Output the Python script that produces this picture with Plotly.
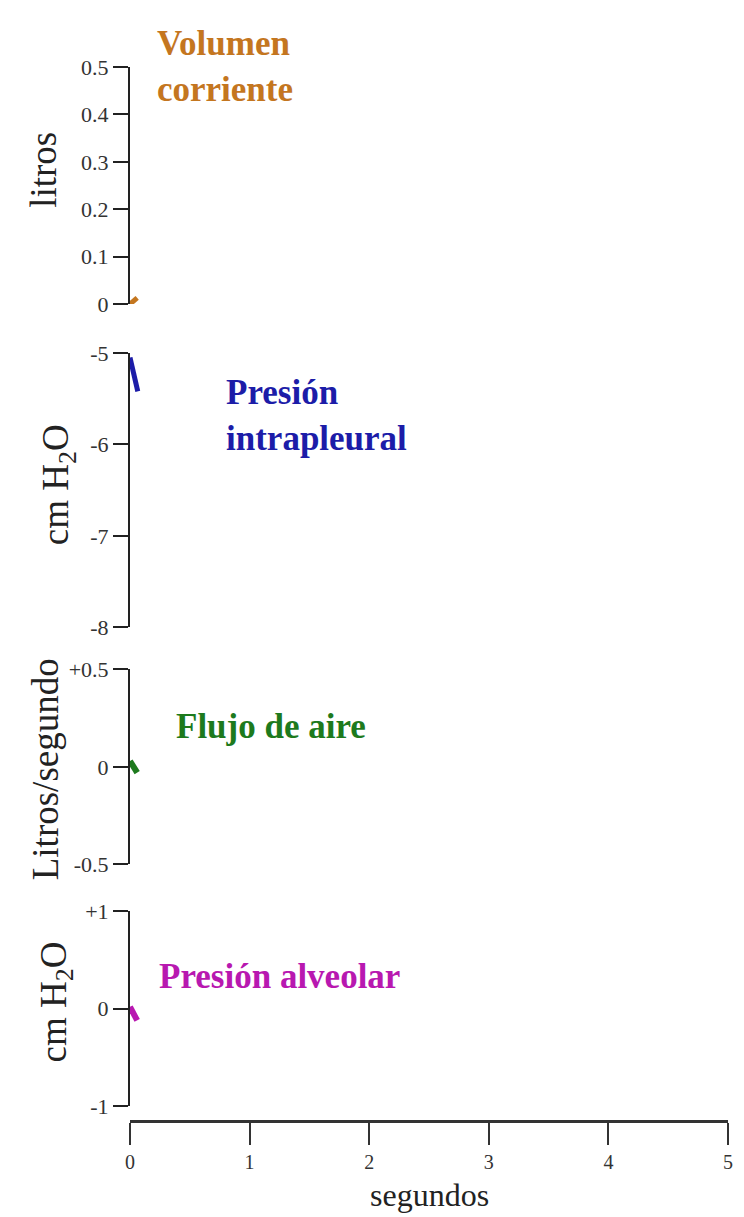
import plotly.graph_objects as go

# ---- data ----
tiempo_vol = [0.0, 0.03, 0.06]
volumen = [0.0, 0.006, 0.013]

tiempo_pip = [0.0, 0.03, 0.065]
presion_intrapleural = [-5.05, -5.2, -5.42]

tiempo_flujo = [0.0, 0.03, 0.06]
flujo = [0.03, 0.0, -0.03]

tiempo_alv = [0.0, 0.03, 0.06]
presion_alveolar = [0.02, -0.05, -0.12]

x_ticks = [0, 1, 2, 3, 4, 5]
y1_ticks = [0, 0.1, 0.2, 0.3, 0.4, 0.5]
y1_labels = ["0", "0.1", "0.2", "0.3", "0.4", "0.5"]
y2_ticks = [-8, -7, -6, -5]
y2_labels = ["-8", "-7", "-6", "-5"]
y3_ticks = [-0.5, 0, 0.5]
y3_labels = ["-0.5", "0", "+0.5"]
y4_ticks = [-1, 0, 1]
y4_labels = ["-1", "0", "+1"]

# ---- colours ----
C_ORANGE = "#c4761f"
C_BLUE = "#1c1ca8"
C_GREEN = "#1d7a1d"
C_MAGENTA = "#b818b0"
AX = "#222222"

W, H = 744, 1217
L, R = 122, 24
PW = W - L - R

def yp(px):
    return 1 - px / H

def xp(px):
    return (px - L) / PW

fig = go.Figure()
fig.add_trace(go.Scatter(x=tiempo_vol, y=volumen, mode="lines",
                         line=dict(color=C_ORANGE, width=5), xaxis="x", yaxis="y"))
fig.add_trace(go.Scatter(x=tiempo_pip, y=presion_intrapleural, mode="lines",
                         line=dict(color=C_BLUE, width=5), xaxis="x", yaxis="y2"))
fig.add_trace(go.Scatter(x=tiempo_flujo, y=flujo, mode="lines",
                         line=dict(color=C_GREEN, width=6), xaxis="x", yaxis="y3"))
fig.add_trace(go.Scatter(x=tiempo_alv, y=presion_alveolar, mode="lines",
                         line=dict(color=C_MAGENTA, width=6), xaxis="x", yaxis="y4"))

tickfont = dict(family="Liberation Serif", size=22, color="#333333")

def yaxis(dom, rng, tv, tt):
    return dict(domain=dom, range=rng, tickvals=tv, ticktext=tt, anchor="x",
                showline=True, linecolor=AX, linewidth=2, ticks="outside",
                ticklen=15, tickwidth=2, tickcolor=AX, showgrid=False,
                zeroline=False, tickfont=tickfont, fixedrange=True)

fig.update_layout(
    width=W, height=H,
    margin=dict(l=L, r=R, t=0, b=0),
    paper_bgcolor="white", plot_bgcolor="white",
    showlegend=False,
    xaxis=dict(domain=[0, 1], range=[0, 5], tickvals=x_ticks, anchor="free",
               position=yp(1124), showline=True, linecolor="#333333", linewidth=3,
               ticks="outside", ticklen=22, tickwidth=2, tickcolor="#333333",
               showgrid=False, zeroline=False,
               tickfont=dict(family="Liberation Serif", size=20, color="#333333"),
               ticklabelstandoff=0),
    yaxis=yaxis([yp(290), yp(48)], [0, 0.5], y1_ticks, y1_labels),
    yaxis2=yaxis([yp(620), yp(340)], [-8, -5], y2_ticks, y2_labels),
    yaxis3=yaxis([yp(862), yp(663)], [-0.5, 0.5], y3_ticks, y3_labels),
    yaxis4=yaxis([yp(1109), yp(910)], [-1, 1], y4_ticks, y4_labels),
)

tf = dict(family="Liberation Serif", size=37, color="#222222")
lf = lambda c: dict(family="Liberation Serif", size=35, color=c)

annots = [
    dict(text="litros", x=xp(36), y=yp(153), textangle=-90, font=tf),
    dict(text="cm H<sub>2</sub>O", x=xp(50), y=yp(475), textangle=-90, font=tf),
    dict(text="Litros/segundo", x=xp(37), y=yp(765), textangle=-90, font=tf),
    dict(text="cm H<sub>2</sub>O", x=xp(48), y=yp(1003), textangle=-90, font=tf),
    dict(text="segundos", x=xp(421), y=yp(1219), yanchor="bottom", borderpad=0,
         font=dict(family="Liberation Serif", size=32, color="#222222")),
    dict(text="<b>Volumen<br>corriente</b>", x=xp(147), y=yp(47), xanchor="left",
         align="left", font=lf(C_ORANGE)),
    dict(text="<b>Presión<br>intrapleural</b>", x=xp(216), y=yp(404), xanchor="left",
         align="left", font=lf(C_BLUE)),
    dict(text="<b>Flujo de aire</b>", x=xp(166), y=yp(721), xanchor="left",
         align="left", font=lf(C_GREEN)),
    dict(text="<b>Presión alveolar</b>", x=xp(149), y=yp(977), xanchor="left",
         align="left", font=lf(C_MAGENTA)),
]
for a in annots:
    a.update(xref="paper", yref="paper", showarrow=False)
    a.setdefault("xanchor", "center")
    a.setdefault("yanchor", "middle")
    fig.add_annotation(**a)

fig.write_html("out.html")
